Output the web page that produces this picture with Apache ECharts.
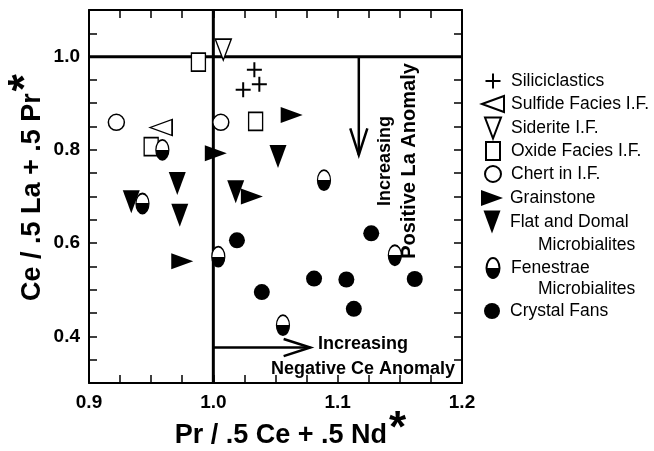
<!DOCTYPE html>
<html>
<head>
<meta charset="utf-8">
<script src="https://cdn.jsdelivr.net/npm/echarts@6/dist/echarts.min.js"></script>
<style>
    html, body { margin: 0; padding: 0; background: #fff; }
    #chart { width: 654px; height: 451px; }
</style>
</head>
<body>
<div id="chart"></div>
<script>
var xTickLabels = [0.9, 1.0, 1.1, 1.2];
var yTickLabels = [0.4, 0.6, 0.8, 1.0];

var seriesNames = ['Siliciclastics', 'Sulfide Facies I.F.', 'Siderite I.F.', 'Oxide Facies I.F.',
    'Chert in I.F.', 'Grainstone', 'Flat and Domal Microbialites', 'Fenestrae Microbialites', 'Crystal Fans'];

var siliciclasticsX = [1.033, 1.037, 1.024];
var siliciclasticsY = [0.972, 0.941, 0.929];
var sulfideX = [0.958];
var sulfideY = [0.848];
var sideriteX = [1.008];
var sideriteY = [1.015];
var oxideX = [0.988, 1.034, 0.950];
var oxideY = [0.988, 0.861, 0.807];
var chertX = [0.922, 1.006];
var chertY = [0.859, 0.859];
var grainstoneX = [1.002, 1.031, 1.063, 0.975];
var grainstoneY = [0.793, 0.700, 0.875, 0.561];
var flatX = [0.934, 0.971, 0.973, 1.018, 1.052];
var flatY = [0.689, 0.728, 0.660, 0.710, 0.786];
var fenestraeX = [0.959, 0.943, 1.004, 1.089, 1.146, 1.056];
var fenestraeY = [0.800, 0.685, 0.571, 0.735, 0.574, 0.424];
var crystalX = [1.019, 1.039, 1.127, 1.081, 1.107, 1.113, 1.162];
var crystalY = [0.606, 0.495, 0.621, 0.524, 0.522, 0.459, 0.523];

// reference lines and arrows: [x0, y0, x1, y1, arrow head]
var guideLines = [[1.0, 0.3, 1.0, 1.1, 0], [0.9, 1.0, 1.2, 1.0, 0]];
var arrowLines = [[1.117, 1.0, 1.117, 0.789, 1], [1.0, 0.376, 1.078, 0.376, 1]];

var FONT = '"Liberation Sans", Arial, Helvetica, sans-serif';

function zip(xs, ys) {
    return xs.map(function (x, i) { return [x, ys[i]]; });
}

function tickFormatter(list) {
    return function (v) {
        for (var i = 0; i < list.length; i++) {
            if (Math.abs(v - list[i]) < 1e-6) return list[i].toFixed(1);
        }
        return '';
    };
}

var halfFill = {
    type: 'linear', x: 0, y: 0, x2: 0, y2: 1,
    colorStops: [{ offset: 0, color: '#fff' }, { offset: 0.5, color: '#fff' },
        { offset: 0.5, color: '#000' }, { offset: 1, color: '#000' }]
};

var openStyle = { color: '#fff', borderColor: '#000', borderWidth: 1.5, opacity: 1 };
var solidStyle = { color: '#000', borderColor: '#000', borderWidth: 0, opacity: 1 };

var markers = [
    { data: zip(siliciclasticsX, siliciclasticsY), symbol: 'path://M0,7L14,7M7,0L7,14', size: [15, 15],
        style: { color: 'transparent', borderColor: '#000', borderWidth: 2, opacity: 1 } },
    { data: zip(sulfideX, sulfideY), symbol: 'path://M0,8L22,0L22,16Z', size: [22, 16], style: openStyle },
    { data: zip(sideriteX, sideriteY), symbol: 'path://M0,0L16,0L8,21Z', size: [16, 21], style: openStyle },
    { data: zip(oxideX, oxideY), symbol: 'path://M0,0L14,0L14,18L0,18Z', size: [14, 18], style: openStyle },
    { data: zip(chertX, chertY), symbol: 'circle', size: [16, 16], style: openStyle },
    { data: zip(grainstoneX, grainstoneY), symbol: 'path://M0,0L22,8L0,16Z', size: [22, 16], style: solidStyle },
    { data: zip(flatX, flatY), symbol: 'path://M0,0L17,0L8.5,23Z', size: [17, 23], style: solidStyle },
    { data: zip(fenestraeX, fenestraeY), symbol: 'path://M0,10A6.5,10 0 1 1 13,10A6.5,10 0 1 1 0,10Z', size: [13, 20],
        style: { color: halfFill, borderColor: '#000', borderWidth: 1.5, opacity: 1 } },
    { data: zip(crystalX, crystalY), symbol: 'circle', size: [16, 16], style: solidStyle }
];

var legendLabels = ['Siliciclastics', 'Sulfide Facies I.F.', 'Siderite I.F.', 'Oxide Facies I.F.',
    'Chert in I.F.', 'Grainstone', 'Flat and Domal', 'Fenestrae', 'Crystal Fans'];
var legendRowY = [81, 104, 127, 151, 174, 198, 222, 267, 311];

var chart = echarts.init(document.getElementById('chart'));

var series = [{
    type: 'custom',
    silent: true,
    z: 1,
    encode: { x: [0, 2], y: [1, 3] },
    data: guideLines.concat(arrowLines),
    renderItem: function (params, api) {
        var p0 = api.coord([api.value(0), api.value(1)]);
        var p1 = api.coord([api.value(2), api.value(3)]);
        var head = api.value(4);
        var children = [{
            type: 'line',
            shape: { x1: p0[0], y1: p0[1], x2: p1[0], y2: p1[1] },
            style: { stroke: '#000', lineWidth: head ? 2.5 : 3 }
        }];
        if (head) {
            var a = Math.atan2(p1[1] - p0[1], p1[0] - p0[0]);
            var len = 28, spread = 0.31;
            children.push({
                type: 'polyline',
                shape: {
                    points: [
                        [p1[0] - len * Math.cos(a - spread), p1[1] - len * Math.sin(a - spread)],
                        [p1[0], p1[1]],
                        [p1[0] - len * Math.cos(a + spread), p1[1] - len * Math.sin(a + spread)]
                    ]
                },
                style: { stroke: '#000', fill: null, lineWidth: 2.5 }
            });
        }
        return { type: 'group', children: children };
    }
}];

markers.forEach(function (m, i) {
    series.push({
        name: seriesNames[i],
        type: 'scatter',
        z: 3,
        symbol: m.symbol,
        symbolSize: m.size,
        itemStyle: m.style,
        emphasis: { disabled: true },
        data: m.data
    });
});

// one legend block per entry so each icon keeps its own size
var legends = markers.map(function (m, i) {
    var w = m.size[0], h = m.size[1];
    var boxH = Math.max(h, 20);
    return {
        data: [seriesNames[i]],
        orient: 'vertical',
        left: 492 - w / 2,
        top: legendRowY[i] - boxH / 2,
        padding: 0,
        itemWidth: w,
        itemHeight: h,
        selectedMode: false,
        formatter: function () { return legendLabels[i]; },
        textStyle: {
            fontFamily: FONT, fontSize: 17.5, color: '#000', lineHeight: 20,
            padding: [0, 0, 0, 510 - (492 + w / 2 + 5)]
        }
    };
});

var axisCommon = {
    type: 'value',
    axisLine: { show: true, onZero: false, lineStyle: { color: '#000', width: 2 } },
    axisTick: { show: true, inside: true, length: 8, lineStyle: { color: '#000', width: 1.5 } },
    splitLine: { show: false }
};

function titleStyle(shift) {
    return {
        fontFamily: FONT, fontSize: 27, fontWeight: 'bold', color: '#000',
        padding: [0, 0, 0, shift],
        rich: {
            s: { fontFamily: FONT, fontSize: 44, fontWeight: 'bold', color: '#000', verticalAlign: 'bottom', padding: [0, 0, 12, 2] }
        }
    };
}

var option = {
    animation: false,
    backgroundColor: '#fff',
    grid: { left: 89, right: 192, top: 10, bottom: 68, containLabel: false, outerBoundsMode: 'none' },
    legend: legends,
    xAxis: [
        echarts.util.merge({
            position: 'bottom', min: 0.9, max: 1.2, interval: 0.025,
            axisLabel: { formatter: tickFormatter(xTickLabels), fontFamily: FONT, fontSize: 19, fontWeight: 'bold', color: '#000', margin: 10 },
            name: 'Pr / .5 Ce + .5 Nd{s|*}',
            nameLocation: 'middle',
            nameGap: 25,
            nameMoveOverlap: false,
            nameTextStyle: titleStyle(30)
        }, axisCommon, true),
        echarts.util.merge({
            position: 'top', min: 0.9, max: 1.2, interval: 0.025,
            axisLabel: { show: false }
        }, axisCommon, true)
    ],
    yAxis: [
        echarts.util.merge({
            position: 'left', min: 0.3, max: 1.1, interval: 0.05,
            axisLabel: { formatter: tickFormatter(yTickLabels), fontFamily: FONT, fontSize: 19, fontWeight: 'bold', color: '#000', margin: 9 },
            name: 'Ce / .5 La + .5 Pr{s|*}',
            nameLocation: 'middle',
            nameGap: 28,
            nameRotate: 90,
            nameMoveOverlap: false,
            nameTextStyle: titleStyle(18)
        }, axisCommon, true),
        echarts.util.merge({
            position: 'right', min: 0.3, max: 1.1, interval: 0.05,
            axisLabel: { show: false }
        }, axisCommon, true)
    ],
    graphic: [
        {
            type: 'text', x: 363, y: 357,
            style: { text: 'Increasing\nNegative Ce Anomaly', font: 'bold 18px ' + FONT, fill: '#000',
                textAlign: 'center', textVerticalAlign: 'middle', lineHeight: 25 }
        },
        {
            type: 'text', x: 397, y: 161, rotation: Math.PI / 2,
            style: {
                text: '{a|Increasing}\n{b|Positive La Anomaly}', fill: '#000',
                textAlign: 'center', textVerticalAlign: 'middle',
                rich: {
                    a: { font: 'bold 18px ' + FONT, lineHeight: 24, fill: '#000' },
                    b: { font: 'bold 20px ' + FONT, lineHeight: 24, fill: '#000' }
                }
            }
        },
        {
            type: 'text', x: 538, y: 245,
            style: { text: 'Microbialites', font: '17.5px ' + FONT, fill: '#000', textVerticalAlign: 'middle' }
        },
        {
            type: 'text', x: 538, y: 289,
            style: { text: 'Microbialites', font: '17.5px ' + FONT, fill: '#000', textVerticalAlign: 'middle' }
        }
    ],
    series: series
};

chart.setOption(option);
</script>
</body>
</html>
